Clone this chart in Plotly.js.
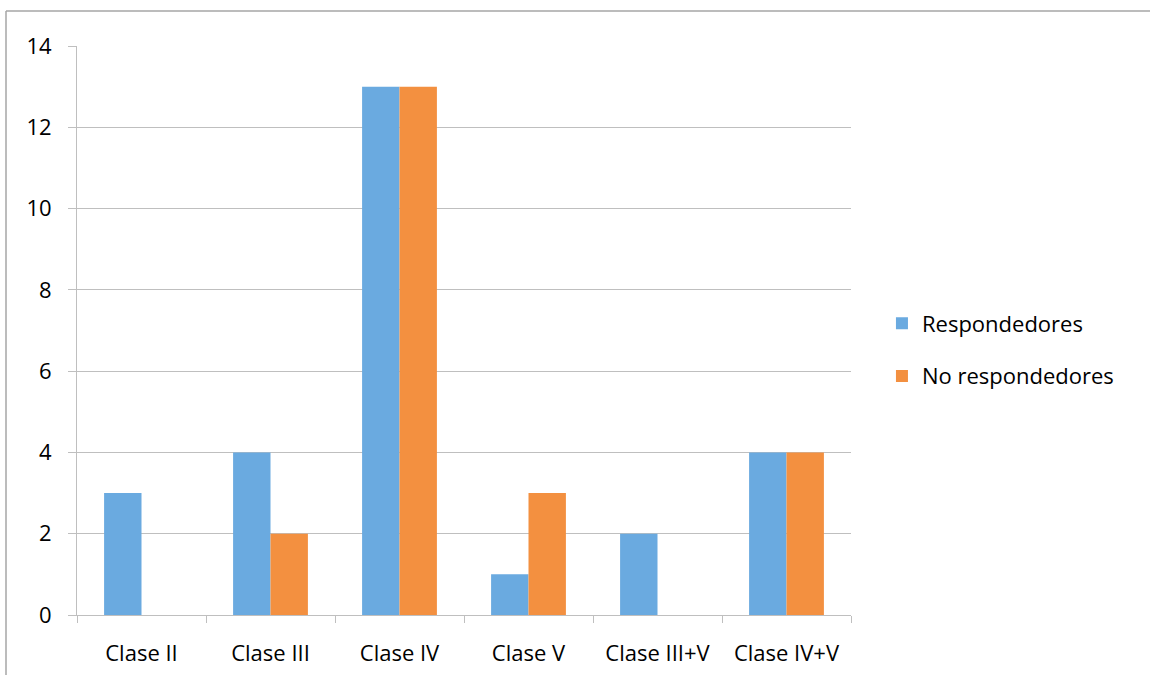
<!DOCTYPE html>
<html>
<head>
<meta charset="utf-8">
<script src="https://cdn.plot.ly/plotly-3.0.1.min.js"></script>
<style>
html,body{margin:0;padding:0;background:#fff;}
#chart{width:1150px;height:675px;}
</style>
</head>
<body>
<div id="chart"></div>
<script>
const categories = ["Clase II", "Clase III", "Clase IV", "Clase V", "Clase III+V", "Clase IV+V"];
const respondedores = [3, 4, 13, 1, 2, 4];
const noRespondedores = [0, 2, 13, 3, 0, 4];
const yTicks = [0, 2, 4, 6, 8, 10, 12, 14];

const font = {family: "'Open Sans', 'Noto Sans', sans-serif", size: 22, color: "#000"};

const traces = [
  {type: "bar", name: "Respondedores", x: categories, y: respondedores,
   marker: {color: "#6aaae0"}, legendgroup: "a"},
  {type: "bar", name: "No respondedores", x: categories, y: noRespondedores,
   marker: {color: "#f39040"}, legendgroup: "b"}
];

const layout = {
  width: 1150, height: 675,
  margin: {l: 77, r: 299, t: 46, b: 60, pad: 0},
  paper_bgcolor: "#fff", plot_bgcolor: "#fff",
  font: font,
  barmode: "group", bargap: 0.42, bargroupgap: 0,
  showlegend: true,
  legend: {x: 1.04, y: (615 - 350) / 569, xanchor: "left", yanchor: "middle",
           font: font, tracegroupgap: 21, traceorder: "grouped", itemwidth: 30},
  xaxis: {type: "category", tickson: "boundaries", ticks: "outside", ticklen: 7,
          tickcolor: "#bfbfbf", showline: true, linecolor: "#bfbfbf", linewidth: 1,
          showgrid: false, tickfont: font, fixedrange: true, ticklabelstandoff: 19},
  yaxis: {range: [0, 14], tickvals: yTicks, ticktext: yTicks.map(String),
          ticks: "outside", ticklen: 8, tickcolor: "#bfbfbf",
          showline: true, linecolor: "#bfbfbf", linewidth: 1,
          showgrid: true, gridcolor: "#bfbfbf", gridwidth: 1, zeroline: false,
          tickfont: font, fixedrange: true, ticklabelstandoff: 12},
  shapes: [
    {type: "line", xref: "paper", yref: "paper",
     x0: (6 - 77) / 774, x1: (1150 - 77) / 774,
     y0: (615 - 11) / 569, y1: (615 - 11) / 569,
     line: {color: "#a6a6a6", width: 1.5}},
    {type: "line", xref: "paper", yref: "paper",
     x0: (6 - 77) / 774, x1: (6 - 77) / 774,
     y0: (615 - 11) / 569, y1: (615 - 680) / 569,
     line: {color: "#a6a6a6", width: 1.5}}
  ]
};

Plotly.newPlot("chart", traces, layout, {staticPlot: true});
</script>
</body>
</html>
